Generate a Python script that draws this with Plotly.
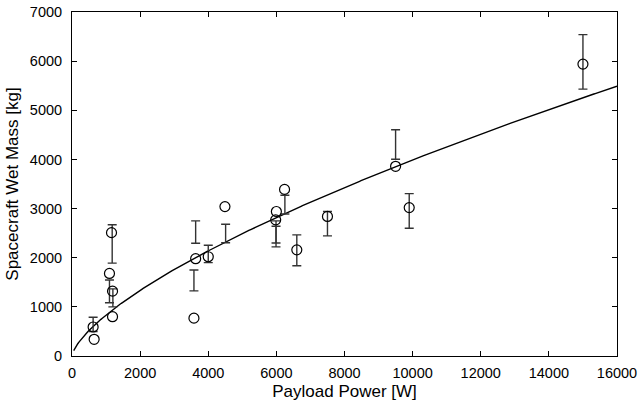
import numpy as np
import plotly.graph_objects as go

# Observed spacecraft (circles)
power_pts = [620, 650, 1100, 1160, 1190, 1190, 3580, 3630, 4000, 4490,
             6000, 5980, 6240, 6600, 7500, 9500, 9900, 15000]
mass_pts = [590, 340, 1680, 2510, 1320, 800, 770, 1980, 2020, 3040,
            2940, 2770, 3390, 2160, 2840, 3860, 3020, 5940]

# Error bars (separate from circles)
bar_power = [620, 1100, 1200, 1180, 3630, 3580, 4000, 4510, 5990, 5990,
             6250, 6600, 7500, 9500, 9900, 15000]
bar_low = [500, 1085, 1000, 1890, 2295, 1325, 1900, 2305, 2300, 2220,
           2890, 1835, 2445, 4005, 2600, 5430]
bar_high = [790, 1545, 1365, 2670, 2750, 1750, 2255, 2680, 2750, 2640,
            3270, 2465, 2940, 4605, 3305, 6540]

# Power-law fit M = a * P^b (coefficients)
fit_a = 7.6
fit_b = 0.68
fit_pmin, fit_pmax = 50, 16000

x_ticks = [0, 2000, 4000, 6000, 8000, 10000, 12000, 14000, 16000]
y_ticks = [0, 1000, 2000, 3000, 4000, 5000, 6000, 7000]

fit_p = np.linspace(fit_pmin, fit_pmax, 400)
fit_m = fit_a * fit_p ** fit_b

mid = [(l + h) / 2 for l, h in zip(bar_low, bar_high)]
half = [(h - l) / 2 for l, h in zip(bar_low, bar_high)]

fig = go.Figure()
fig.add_trace(go.Scatter(x=fit_p, y=fit_m, mode="lines",
                         line=dict(color="black", width=1.4),
                         showlegend=False, hoverinfo="skip"))
fig.add_trace(go.Scatter(x=bar_power, y=mid, mode="markers",
                         marker=dict(size=1, opacity=0),
                         error_y=dict(type="data", array=half, visible=True,
                                      color="#333333", thickness=1.4, width=4.5),
                         showlegend=False))
fig.add_trace(go.Scatter(x=power_pts, y=mass_pts, mode="markers",
                         marker=dict(symbol="circle-open", size=10,
                                     color="black", line=dict(width=1.2)),
                         showlegend=False))

font = "Liberation Sans, Arial, Helvetica, sans-serif"
axis_common = dict(showline=True, linecolor="black", linewidth=1,
                   mirror="allticks", ticks="inside", ticklen=5,
                   tickcolor="black", showgrid=False, zeroline=False,
                   automargin=False,
                   tickfont=dict(family=font, size=14.5, color="black"))

fig.update_layout(
    width=639, height=404,
    margin=dict(l=72, r=22, t=12, b=48),
    paper_bgcolor="white", plot_bgcolor="white",
    font=dict(family=font, color="black"),
    xaxis=dict(range=[0, 16000], tickvals=x_ticks,
               ticktext=[str(v) for v in x_ticks],
               title=dict(text="Payload Power [W]", standoff=4,
                          font=dict(size=17)),
               ticklabelstandoff=4, **axis_common),
    yaxis=dict(range=[0, 7000], tickvals=y_ticks,
               ticktext=[str(v) for v in y_ticks],
               title=dict(text="Spacecraft Wet Mass [kg]", standoff=6,
                          font=dict(size=17)),
               ticklabelstandoff=6, **axis_common),
)

fig.write_html(
    "out.html",
    config={"displayModeBar": False},
    post_script="document.body.style.margin='0';document.body.style.overflow='hidden';",
)
